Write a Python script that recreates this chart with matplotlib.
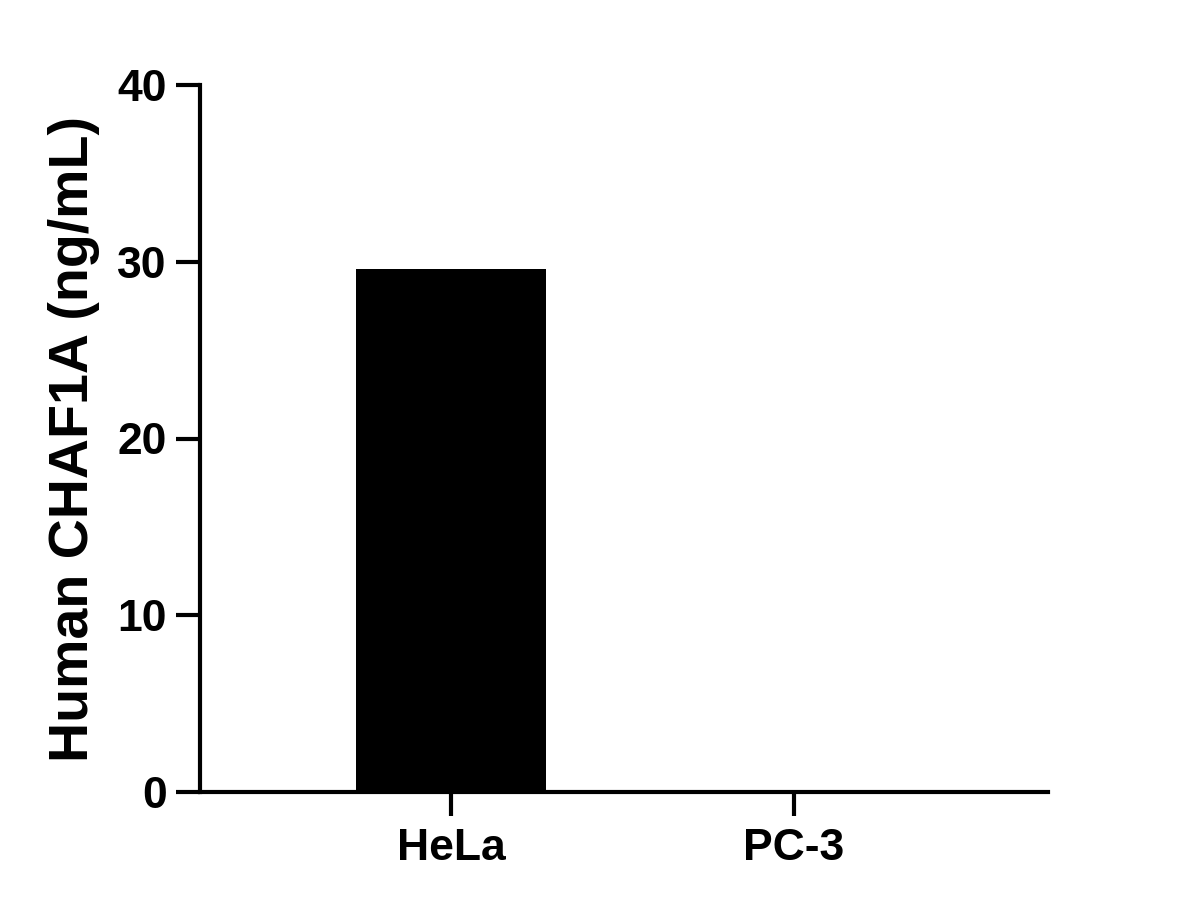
import numpy as np
import matplotlib
matplotlib.use('Agg')
import matplotlib.pyplot as plt

plt.rcParams['font.family'] = ['Liberation Sans', 'DejaVu Sans']
plt.rcParams['font.weight'] = 'bold'

samples = ['HeLa', 'PC-3']
conc = [29.6, 0.0]
yticks = [0, 10, 20, 30, 40]

fig = plt.figure(figsize=(11.85, 9.08), dpi=100)
ax = fig.add_axes([200/1185, 1-792/908, 848/1185, 707/908])

x = np.arange(len(samples))
ax.bar(x, conc, width=0.554, color='black', zorder=1)

ax.set_xlim(-0.732, 1.741)
ax.set_ylim(0, 40)
ax.set_yticks(yticks)
ax.set_xticks(x)
ax.set_xticklabels(samples)

for s in ['top', 'right']:
    ax.spines[s].set_visible(False)
for s in ['left', 'bottom']:
    ax.spines[s].set_linewidth(3)
ax.spines['bottom'].set_zorder(3)

ax.tick_params(axis='both', width=3, length=17, labelsize=32, direction='out')
ax.tick_params(axis='x', pad=9)
ax.tick_params(axis='y', pad=7)
for lab in ax.get_xticklabels() + ax.get_yticklabels():
    lab.set_fontweight('bold')

ax.set_ylabel('Human CHAF1A (ng/mL)', fontsize=40, fontweight='bold', labelpad=12)

fig.savefig('out.png', dpi=100)
